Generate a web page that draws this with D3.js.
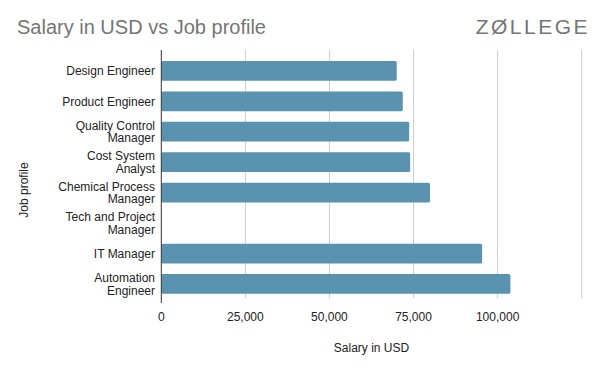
<!DOCTYPE html>
<html>
<head>
<meta charset="utf-8">
<script src="https://cdn.jsdelivr.net/npm/d3@7"></script>
<style>
  body { margin: 0; background: #fff; }
  svg { display: block; }
</style>
</head>
<body>
<svg class="chart" width="600" height="371"></svg>
<script>
const categories = [
  ["Design Engineer"],
  ["Product Engineer"],
  ["Quality Control", "Manager"],
  ["Cost System", "Analyst"],
  ["Chemical Process", "Manager"],
  ["Tech and Project", "Manager"],
  ["IT Manager"],
  ["Automation", "Engineer"]
];
const salaries = [70000, 71800, 73700, 74000, 79900, 0, 95400, 103800];
const xTicks = [0, 25000, 50000, 75000, 100000, 125000];
const xTickLabels = ["0", "25,000", "50,000", "75,000", "100,000", ""];

const left = 161.3, right = 581.7;
const gridTop = 50, gridBottom = 298;
const barColor = '#5a93af';
const labelFont = '"Liberation Sans", Arial, sans-serif';

const data = categories.map((c, i) => ({ key: c.join(' '), lines: c, value: salaries[i] }));

const svg = d3.select('svg.chart');

const x = d3.scaleLinear()
            .domain([0, 125000])
            .range([left, right]);

const y = d3.scaleBand()
            .domain(data.map(d => d.key))
            .range([55.6, 299.2])
            .paddingInner(0.35)
            .paddingOuter(0.175);

// title + brand
svg.append('text')
   .attr('x', 17).attr('y', 34)
   .style('font-family', labelFont)
   .style('font-size', '20px')
   .style('fill', '#757575')
   .text('Salary in USD vs Job profile');

svg.append('text')
   .attr('x', 590).attr('y', 34)
   .attr('text-anchor', 'end')
   .style('font-family', labelFont)
   .style('font-size', '21px')
   .style('letter-spacing', '2.5px')
   .style('fill', '#757575')
   .text('ZØLLEGE');

// vertical gridlines
svg.append('g')
   .selectAll('line.grid')
   .data(xTicks.slice(1))
   .enter()
   .append('line')
   .classed('grid', true)
   .attr('x1', d => x(d)).attr('x2', d => x(d))
   .attr('y1', gridTop).attr('y2', gridBottom)
   .style('stroke', '#cccccc')
   .style('stroke-width', 1);

// bars
svg.append('g')
   .selectAll('rect.bar')
   .data(data)
   .enter()
   .append('rect')
   .classed('bar', true)
   .attr('x', x(0))
   .attr('y', d => y(d.key))
   .attr('width', d => Math.max(0, x(d.value) - x(0)))
   .attr('height', y.bandwidth())
   .attr('rx', 1.5)
   .style('fill', barColor);

// zero axis line
svg.append('line')
   .attr('x1', x(0)).attr('x2', x(0))
   .attr('y1', gridTop).attr('y2', gridBottom + 5)
   .style('stroke', '#333')
   .style('stroke-width', 1);

// x tick labels
svg.append('g')
   .selectAll('text.xtick')
   .data(xTicks)
   .enter()
   .append('text')
   .classed('xtick', true)
   .attr('x', d => x(d))
   .attr('y', 321)
   .attr('text-anchor', 'middle')
   .style('font-family', labelFont)
   .style('font-size', '12px')
   .style('fill', '#222')
   .text((d, i) => xTickLabels[i]);

// category labels
const catG = svg.append('g')
   .selectAll('text.cat')
   .data(data)
   .enter()
   .append('text')
   .classed('cat', true)
   .attr('text-anchor', 'end')
   .style('font-family', labelFont)
   .style('font-size', '12px')
   .style('fill', '#222');

catG.each(function(d) {
  const mid = y(d.key) + y.bandwidth() / 2;
  const lh = 12.5;
  const n = d.lines.length;
  d3.select(this).selectAll('tspan')
    .data(d.lines)
    .enter()
    .append('tspan')
    .attr('x', 155)
    .attr('y', (l, j) => mid + 4.3 + (j - (n - 1) / 2) * lh)
    .text(l => l);
});

// axis titles
svg.append('text')
   .attr('x', (left + right) / 2)
   .attr('y', 352)
   .attr('text-anchor', 'middle')
   .style('font-family', labelFont)
   .style('font-size', '12px')
   .style('fill', '#222')
   .text('Salary in USD');

svg.append('text')
   .attr('transform', 'translate(28,190) rotate(-90)')
   .attr('text-anchor', 'middle')
   .style('font-family', labelFont)
   .style('font-size', '12px')
   .style('fill', '#222')
   .text('Job profile');
</script>
</body>
</html>
